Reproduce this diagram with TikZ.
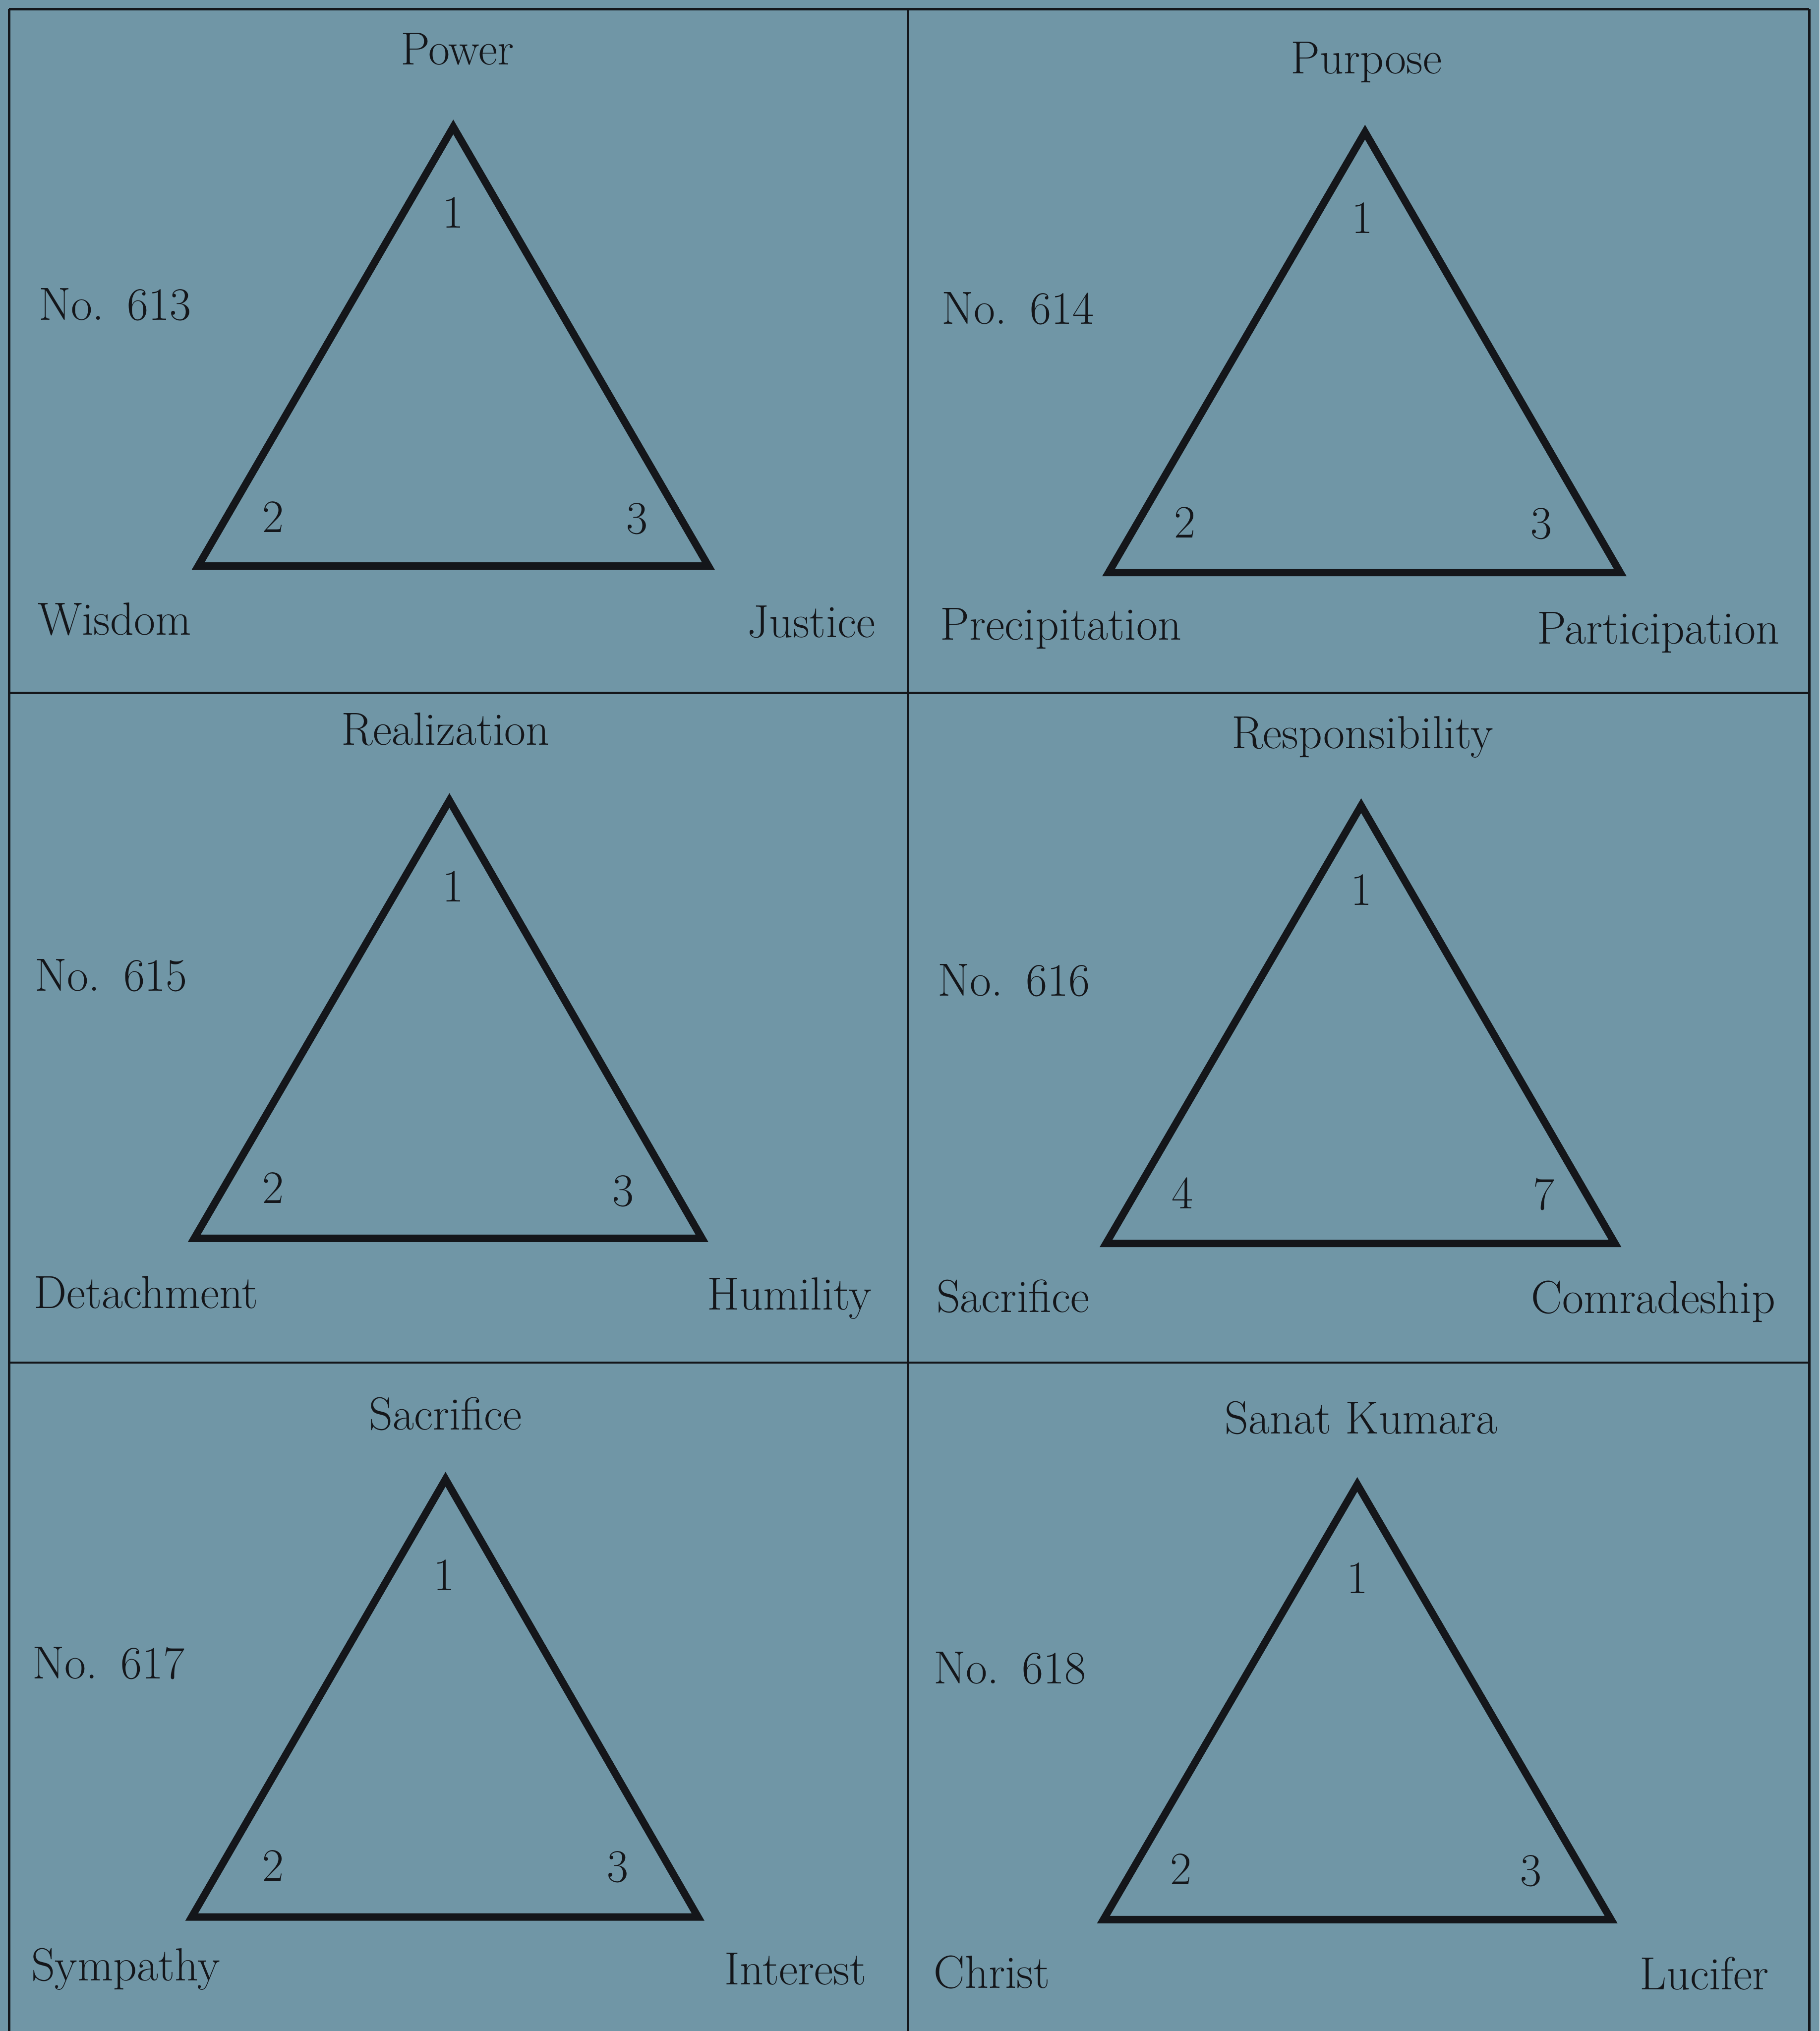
\documentclass[tikz,border=0pt]{standalone}
\usepackage[dvipsnames,svgnames,x11names]{xcolor}
\usepackage{tikz}
\definecolor{slate}{RGB}{112,150,166}
\definecolor{ink}{RGB}{20,22,26}
\newcommand{\cellfont}{\fontsize{51}{60}\selectfont}
\tikzstyle{gridline} = [draw=ink, line width=0.85mm]
\tikzstyle{triline} = [draw=ink, line width=2.85mm, line join=miter]
\tikzstyle{word} = [font=\cellfont, text=ink, inner sep=0pt]
\tikzstyle{headword} = [word, anchor=base]
\tikzstyle{vertexnum} = [word, anchor=base]
\tikzstyle{leftword} = [word, anchor=base west]
\tikzstyle{rightword} = [word, anchor=base east]

\begin{document}
\begin{tikzpicture}[x=0.5mm, y=-0.5mm]
% Page background
\fill[slate] (0,0) rectangle (1405,1568);
\useasboundingbox (0,0) rectangle (1405,1568);
% Grid corners, 3 rows x 2 columns (no bottom rule)
\coordinate (gtl) at (7,7);
\coordinate (gtm) at (701,7);
\coordinate (gtr) at (1397,7);
\coordinate (gr1l) at (7,535);
\coordinate (gr1r) at (1397,535);
\coordinate (gr2l) at (7,1052);
\coordinate (gr2r) at (1397,1052);
\coordinate (gbl) at (7,1568);
\coordinate (gbm) at (701,1568);
\coordinate (gbr) at (1397,1568);
\draw[gridline] (gtl) -- (gtr);
\draw[gridline] (gr1l) -- (gr1r);
\draw[gridline] (gr2l) -- (gr2r);
\draw[gridline] (gtl) -- (gbl);
\draw[gridline] (gtm) -- (gbm);
\draw[gridline] (gtr) -- (gbr);
% Cell 1, No. 613
\coordinate (a613) at (350,98);
\coordinate (b613) at (153,437);
\coordinate (c613) at (547,437);
\draw[triline] (a613) -- (b613) -- (c613) -- cycle;
\node[headword] (top613) at (353,50) {Power};
\node[vertexnum] (one613) at (350,176) {1};
\node[vertexnum] (two613) at (211,411) {2};
\node[vertexnum] (three613) at (492,412) {3};
\node[leftword] (no613) at (30,247) {No.\enspace 613};
\node[leftword] (left613) at (29,490) {Wisdom};
\node[rightword] (right613) at (676,492) {Justice};
% Cell 2, No. 614
\coordinate (a614) at (1054,102);
\coordinate (b614) at (856,442);
\coordinate (c614) at (1251,442);
\draw[triline] (a614) -- (b614) -- (c614) -- cycle;
\node[headword] (top614) at (1055,57) {Purpose};
\node[vertexnum] (one614) at (1052,180) {1};
\node[vertexnum] (two614) at (915,415) {2};
\node[vertexnum] (three614) at (1190,416) {3};
\node[leftword] (no614) at (727,250) {No.\enspace 614};
\node[leftword] (left614) at (726,494) {Precipitation};
\node[rightword] (right614) at (1374,497) {Participation};
% Cell 3, No. 615
\coordinate (a615) at (347,618);
\coordinate (b615) at (150,956);
\coordinate (c615) at (542,956);
\draw[triline] (a615) -- (b615) -- (c615) -- cycle;
\node[headword] (top615) at (344,575) {Realization};
\node[vertexnum] (one615) at (350,696) {1};
\node[vertexnum] (two615) at (211,929) {2};
\node[vertexnum] (three615) at (481,931) {3};
\node[leftword] (no615) at (27,765) {No.\enspace 615};
\node[leftword] (left615) at (26,1010) {Detachment};
\node[rightword] (right615) at (673,1011) {Humility};
% Cell 4, No. 616
\coordinate (a616) at (1051,622);
\coordinate (b616) at (854,960);
\coordinate (c616) at (1247,960);
\draw[triline] (a616) -- (b616) -- (c616) -- cycle;
\node[headword] (top616) at (1052,578) {Responsibility};
\node[vertexnum] (one616) at (1051,699) {1};
\node[vertexnum] (four616) at (913,933) {4};
\node[vertexnum] (seven616) at (1192,934) {7};
\node[leftword] (no616) at (724,769) {No.\enspace 616};
\node[leftword] (left616) at (723,1013) {Sacrifice};
\node[rightword] (right616) at (1371,1014) {Comradeship};
% Cell 5, No. 617
\coordinate (a617) at (344,1142);
\coordinate (b617) at (148,1480);
\coordinate (c617) at (539,1480);
\draw[triline] (a617) -- (b617) -- (c617) -- cycle;
\node[headword] (top617) at (344,1104) {Sacrifice};
\node[vertexnum] (one617) at (343,1228) {1};
\node[vertexnum] (two617) at (211,1452) {2};
\node[vertexnum] (three617) at (477,1453) {3};
\node[leftword] (no617) at (25,1296) {No.\enspace 617};
\node[leftword] (left617) at (24,1529) {Sympathy};
\node[rightword] (right617) at (669,1532) {Interest};
% Cell 6, No. 618
\coordinate (a618) at (1048,1146);
\coordinate (b618) at (852,1482);
\coordinate (c618) at (1244,1482);
\draw[triline] (a618) -- (b618) -- (c618) -- cycle;
\node[headword] (top618) at (1051,1107) {Sanat Kumara};
\node[vertexnum] (one618) at (1048,1230) {1};
\node[vertexnum] (two618) at (912,1455) {2};
\node[vertexnum] (three618) at (1182,1456) {3};
\node[leftword] (no618) at (721,1300) {No.\enspace 618};
\node[leftword] (left618) at (721,1535) {Christ};
\node[rightword] (right618) at (1366,1536) {Lucifer};
\end{tikzpicture}
\end{document}
